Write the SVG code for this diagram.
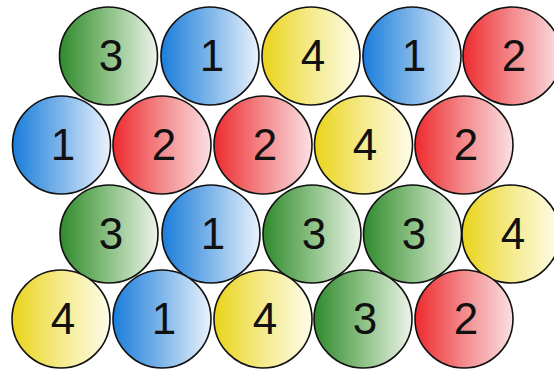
<svg xmlns="http://www.w3.org/2000/svg" width="554" height="370" viewBox="0 0 554 370">
<defs>
<linearGradient id="gG" x1="0" y1="0" x2="1" y2="0"><stop offset="0" stop-color="#2f8a2c"/><stop offset="0.5" stop-color="#8cc185"/><stop offset="1" stop-color="#edf3ea"/></linearGradient>
<linearGradient id="gB" x1="0" y1="0" x2="1" y2="0"><stop offset="0" stop-color="#1a7ddb"/><stop offset="0.5" stop-color="#7fb6ea"/><stop offset="1" stop-color="#eaf2fb"/></linearGradient>
<linearGradient id="gR" x1="0" y1="0" x2="1" y2="0"><stop offset="0" stop-color="#ee2a2e"/><stop offset="0.5" stop-color="#f38a8c"/><stop offset="1" stop-color="#fae0e2"/></linearGradient>
<linearGradient id="gY" x1="0" y1="0" x2="1" y2="0"><stop offset="0" stop-color="#e9d418"/><stop offset="0.5" stop-color="#f5ea8c"/><stop offset="1" stop-color="#fefcea"/></linearGradient>
</defs>
<style>
circle{stroke:#111;stroke-width:1.6}
.g circle{fill:url(#gG)}
.b circle{fill:url(#gB)}
.r circle{fill:url(#gR)}
.y circle{fill:url(#gY)}
text{font-family:"Liberation Sans",Arial,sans-serif;font-size:44px;fill:#111;text-anchor:middle}
</style>
<rect width="554" height="370" fill="#fff"/>
<g id="r1c1" class="g"><circle cx="108.5" cy="56" r="49"/><text x="111" y="71">3</text></g>
<g id="r1c2" class="b"><circle cx="210" cy="56" r="49"/><text x="212" y="71">1</text></g>
<g id="r1c3" class="y"><circle cx="311" cy="56" r="49"/><text x="313" y="71">4</text></g>
<g id="r1c4" class="b"><circle cx="412" cy="56" r="49"/><text x="414" y="71">1</text></g>
<g id="r1c5" class="r"><circle cx="512" cy="56" r="49"/><text x="514" y="71">2</text></g>

<g id="r2c1" class="b"><circle cx="61.5" cy="145" r="49"/><text x="63" y="160">1</text></g>
<g id="r2c2" class="r"><circle cx="162" cy="145" r="49"/><text x="164" y="160">2</text></g>
<g id="r2c3" class="r"><circle cx="263" cy="145" r="49"/><text x="265" y="160">2</text></g>
<g id="r2c4" class="y"><circle cx="363.5" cy="145" r="49"/><text x="365" y="160">4</text></g>
<g id="r2c5" class="r"><circle cx="464" cy="145" r="49"/><text x="466" y="160">2</text></g>

<g id="r3c1" class="g"><circle cx="109" cy="234" r="49"/><text x="111" y="249">3</text></g>
<g id="r3c2" class="b"><circle cx="211" cy="234" r="49"/><text x="213" y="249">1</text></g>
<g id="r3c3" class="g"><circle cx="312" cy="234" r="49"/><text x="314" y="249">3</text></g>
<g id="r3c4" class="g"><circle cx="412.5" cy="234" r="49"/><text x="414" y="249">3</text></g>
<g id="r3c5" class="y"><circle cx="511" cy="234" r="49"/><text x="513" y="249">4</text></g>

<g id="r4c1" class="y"><circle cx="61" cy="319" r="49"/><text x="63" y="334">4</text></g>
<g id="r4c2" class="b"><circle cx="162" cy="319" r="49"/><text x="164" y="334">1</text></g>
<g id="r4c3" class="y"><circle cx="263" cy="319" r="49"/><text x="265" y="334">4</text></g>
<g id="r4c4" class="g"><circle cx="363" cy="319" r="49"/><text x="365" y="334">3</text></g>
<g id="r4c5" class="r"><circle cx="464" cy="319" r="49"/><text x="466" y="334">2</text></g>
<g id="connectors"/>
</svg>
